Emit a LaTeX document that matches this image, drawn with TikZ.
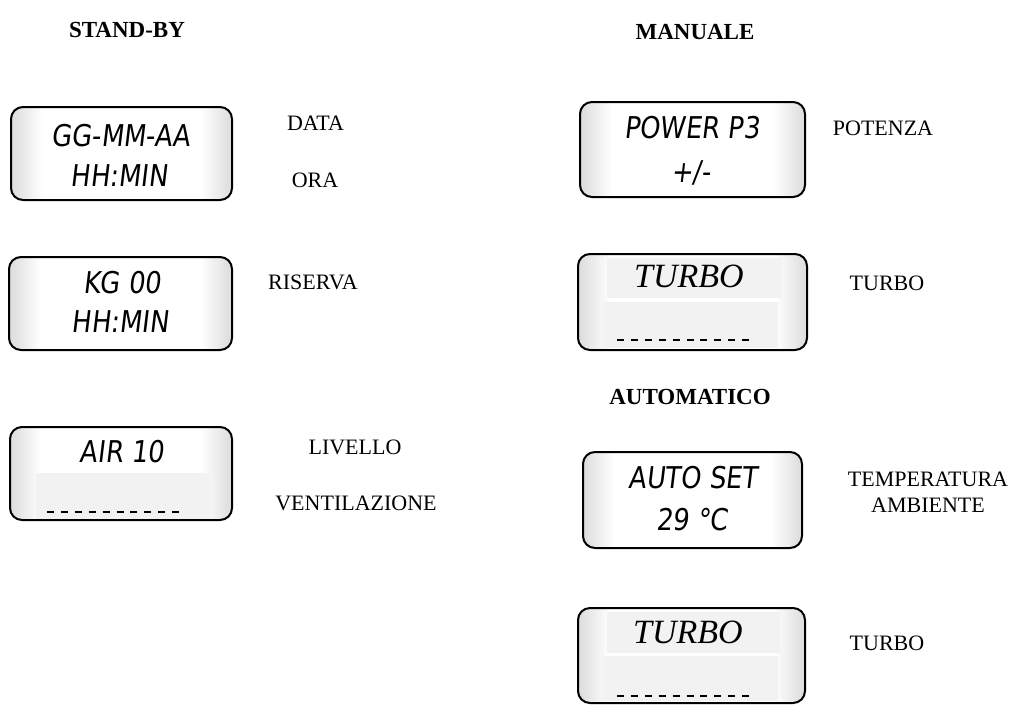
\documentclass[tikz,border=0pt]{standalone}
\usepackage{fontspec}
\setmainfont{Liberation Serif}
\newfontfamily\lcdfont[FakeSlant=0.12,FakeStretch=0.86]{DejaVu Sans}
\pgfdeclarehorizontalshading{lcdshade}{100bp}{color(0bp)=(black!14); color(25bp)=(black!14); color(32bp)=(white); color(68bp)=(white); color(75bp)=(black!14); color(100bp)=(black!14)}
\begin{document}
\begin{tikzpicture}[x=1pt,y=-1pt,
  lcdbox/.style={draw=black, line width=2pt, rounded corners=12pt,
    shading=lcdshade, inner sep=0pt},
  lcdtext/.style={font=\lcdfont\fontsize{30}{30}\selectfont, inner sep=0pt},
  turbotext/.style={font=\itshape\fontsize{34}{34}\selectfont, inner sep=0pt},
  lbl/.style={font=\fontsize{22}{26}\selectfont, inner sep=0pt},
  ttl/.style={font=\bfseries\fontsize{23}{26}\selectfont, inner sep=0pt},
  innerpane/.style={fill=black!5},
  dashline/.style={line width=1.6pt, dash pattern=on 7pt off 6.9pt}]
\useasboundingbox (0,0) rectangle (1024,710);

% titles
\node[ttl] (tstand) at (127,30) {STAND-BY};
\node[ttl] (tman) at (695,32) {MANUALE};
\node[ttl] (tauto) at (690,397) {AUTOMATICO};

% left column boxes
\node[lcdbox, minimum width=221, minimum height=93] (b1) at (121.5,153.5) {};
\node[lcdtext] (b1a) at (121,136) {GG-MM-AA};
\node[lcdtext] (b1b) at (119,176) {HH:MIN};

\node[lcdbox, minimum width=223, minimum height=93] (b2) at (120.5,303.5) {};
\node[lcdtext] (b2a) at (122,283) {KG 00};
\node[lcdtext] (b2b) at (120,322) {HH:MIN};

\node[lcdbox, minimum width=222, minimum height=93] (b3) at (121,473.5) {};
\fill[innerpane] (36,473) rectangle (210,519);
\node[lcdtext] (b3a) at (122,452) {AIR 10};
\coordinate (d3a) at (47,512);
\coordinate (d3b) at (180,512);
\draw[dashline] (d3a) -- (d3b);

% left labels
\node[lbl] (ldata) at (315.5,123) {DATA};
\node[lbl] (lora) at (315,180) {ORA};
\node[lbl] (lris) at (313,282) {RISERVA};
\node[lbl] (lliv) at (355,447) {LIVELLO};
\node[lbl] (lvent) at (356,503) {VENTILAZIONE};

% right column boxes
\node[lcdbox, minimum width=225, minimum height=95] (r1) at (692.5,149.5) {};
\node[lcdtext] (r1a) at (692,128) {POWER P3};
\node[lcdtext] (r1b) at (691,173) {+/-};

\node[lcdbox, minimum width=229, minimum height=96] (r2) at (692.5,302) {};
\fill[innerpane] (607,258) rectangle (782,298);
\fill[innerpane] (603,302) rectangle (778,348);
\node[turbotext] (r2a) at (689,276) {TURBO};
\coordinate (d2a) at (617,340);
\coordinate (d2b) at (750,340);
\draw[dashline] (d2a) -- (d2b);

\node[lcdbox, minimum width=219, minimum height=96] (r3) at (692.5,500) {};
\node[lcdtext] (r3a) at (693,478) {AUTO SET};
\node[lcdtext] (r3b) at (692,520) {29 °C};

\node[lcdbox, minimum width=227, minimum height=95] (r4) at (691.5,655.5) {};
\fill[innerpane] (607,612) rectangle (780,653);
\fill[innerpane] (603,656) rectangle (778,701);
\node[turbotext] (r4a) at (688,632) {TURBO};
\coordinate (d4a) at (617,696);
\coordinate (d4b) at (750,696);
\draw[dashline] (d4a) -- (d4b);

% right labels
\node[lbl] (lpot) at (883,128) {POTENZA};
\node[lbl] (lturbo1) at (887,283) {TURBO};
\node[lbl, align=center] (ltemp) at (928,492) {TEMPERATURA\\AMBIENTE};
\node[lbl] (lturbo2) at (887,643) {TURBO};
\end{tikzpicture}
\end{document}
